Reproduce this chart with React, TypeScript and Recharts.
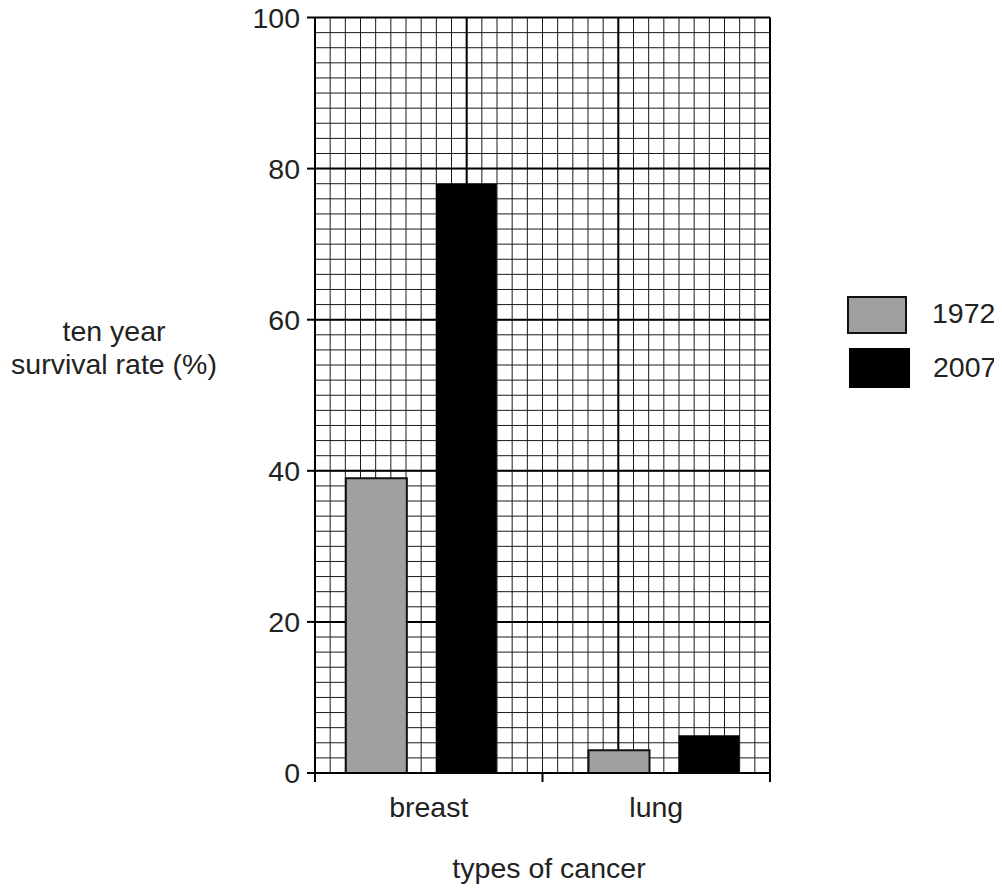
import React from 'react';
import { BarChart, Bar, XAxis, YAxis, CartesianGrid, Customized } from 'recharts';

const categories = ['breast', 'lung'];
const years = ['1972', '2007'];
const survival1972 = [39, 3];
const survival2007 = [78, 5];
const yTicks = [0, 20, 40, 60, 80, 100];
const yLabelLines = ['ten year', 'survival rate (%)'];
const xLabel = 'types of cancer';

const data = categories.map((c, i) => ({
  category: c,
  y1972: survival1972[i],
  y2007: survival2007[i],
}));

const FONT = '"Liberation Sans", Arial, Helvetica, sans-serif';
const FS = 28.5;
const TXT = '#222';

const W = 994;
const H = 881;
const PLOT_LEFT = 307;
const PLOT_RIGHT = 762;
const PLOT_TOP = 9.5;
const PLOT_BOTTOM = 765;
const X_AXIS_H = 60;

// graph-paper layout: 30 columns across, rows every 2 units
const COLS = 30;
const MAJOR_EVERY = 10;
const COL_PX = (PLOT_RIGHT - PLOT_LEFT) / COLS;
const minorH = Array.from({ length: 51 }, (_, i) => i * 2);
const majorH = yTicks;

const colLines = (step: number) => ({ offset }: any) =>
  Array.from({ length: COLS / step + 1 }, (_, i) => offset.left + (i * step * offset.width) / COLS);

const seriesColors = ['#a0a0a0', '#000000'];

const FrameTick = (props: any) => {
  const { x, y, payload, index, visibleTicksCount } = props;
  const half = payload && payload.offset ? payload.offset : (PLOT_RIGHT - PLOT_LEFT) / (2 * categories.length);
  const isLast = index === (visibleTicksCount ?? categories.length) - 1;
  return (
    <g>
      <line x1={x - half} x2={x - half} y1={y} y2={y + 9} stroke="#000" strokeWidth={2} />
      {isLast && <line x1={x + half} x2={x + half} y1={y} y2={y + 9} stroke="#000" strokeWidth={2} />}
      <text x={x} y={y + 44} textAnchor="middle" fontSize={FS} fontFamily={FONT} fill={TXT}>
        {payload.value}
      </text>
    </g>
  );
};

const Annotations = () => (
  <g>
    <text textAnchor="middle" fontSize={FS} fontFamily={FONT} fill={TXT}>
      <tspan x={106} y={333}>{yLabelLines[0]}</tspan>
      <tspan x={106} y={366}>{yLabelLines[1]}</tspan>
    </text>
    <text x={541} y={870} textAnchor="middle" fontSize={FS} fontFamily={FONT} fill={TXT}>
      {xLabel}
    </text>
    <rect x={840} y={289} width={58} height={36} fill={seriesColors[0]} stroke="#111" strokeWidth={2} />
    <text x={924} y={315} fontSize={FS} fontFamily={FONT} fill={TXT}>{years[0]}</text>
    <rect x={841} y={340} width={61} height={40} fill={seriesColors[1]} />
    <text x={925} y={369} fontSize={FS} fontFamily={FONT} fill={TXT}>{years[1]}</text>
  </g>
);

export default function App() {
  return (
    <BarChart
      width={W}
      height={H}
      data={data}
      barGap={29}
      margin={{ top: PLOT_TOP, right: W - PLOT_RIGHT, bottom: H - PLOT_BOTTOM - X_AXIS_H, left: 0 }}
    >
      <CartesianGrid
        xAxisId="frame"
        horizontalValues={minorH}
        verticalCoordinatesGenerator={colLines(1)}
        stroke="#1a1a1a"
        strokeWidth={1}
      />
      <CartesianGrid
        xAxisId="frame"
        horizontalValues={majorH}
        verticalCoordinatesGenerator={colLines(MAJOR_EVERY)}
        stroke="#000"
        strokeWidth={2}
      />
      <XAxis
        xAxisId="frame"
        dataKey="category"
        height={X_AXIS_H}
        interval={0}
        tickSize={0}
        tickMargin={0}
        tickLine={false}
        axisLine={{ stroke: '#000', strokeWidth: 2 }}
        tick={<FrameTick />}
      />
      <XAxis
        xAxisId="cat"
        dataKey="category"
        hide
        orientation="top"
        height={0}
        padding={{ left: -COL_PX, right: -COL_PX }}
      />
      <YAxis
        domain={[0, 100]}
        ticks={yTicks}
        interval={0}
        width={PLOT_LEFT}
        tickSize={8}
        tickMargin={7}
        axisLine={{ stroke: '#000', strokeWidth: 2 }}
        tickLine={{ stroke: '#000', strokeWidth: 2 }}
        tick={{ fontSize: FS, fill: TXT, fontFamily: FONT }}
      />
      <Bar
        xAxisId="cat"
        dataKey="y1972"
        name={years[0]}
        fill={seriesColors[0]}
        stroke="#111"
        strokeWidth={2}
        barSize={61}
        isAnimationActive={false}
      />
      <Bar
        xAxisId="cat"
        dataKey="y2007"
        name={years[1]}
        fill={seriesColors[1]}
        barSize={61}
        isAnimationActive={false}
      />
      <Customized component={Annotations} />
    </BarChart>
  );
}
